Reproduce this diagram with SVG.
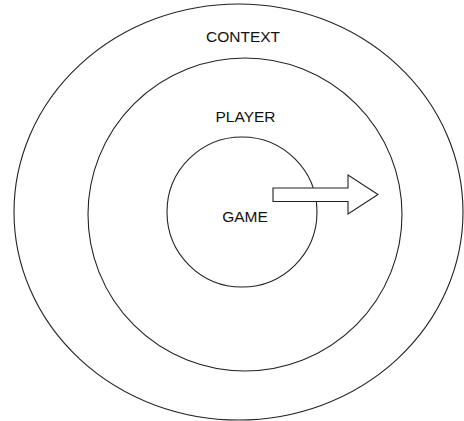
<svg xmlns="http://www.w3.org/2000/svg" width="464" height="421" viewBox="0 0 464 421">
<style>
.ring{fill:none;stroke:#222;stroke-width:1.1}
.lbl{font-family:"Liberation Sans",Arial,sans-serif;font-size:15.5px;fill:#111;text-anchor:middle}
</style>
<rect width="464" height="421" fill="#fff"/>
<g id="context"><ellipse class="ring" cx="238.5" cy="212" rx="224.5" ry="208"/><text class="lbl" x="243" y="41.5">CONTEXT</text></g>
<g id="player"><ellipse class="ring" cx="245" cy="214.5" rx="157" ry="156.5"/><text class="lbl" x="245.5" y="121.5">PLAYER</text></g>
<g id="game"><circle class="ring" cx="242" cy="212" r="75"/><text class="lbl" x="245" y="221.5">GAME</text></g>
<g id="connectors"><path d="M273 188 H348 V175 L378 194.5 L348 214 V201.5 H273 Z" fill="#fff" stroke="#222" stroke-width="1.1"/></g>
</svg>
